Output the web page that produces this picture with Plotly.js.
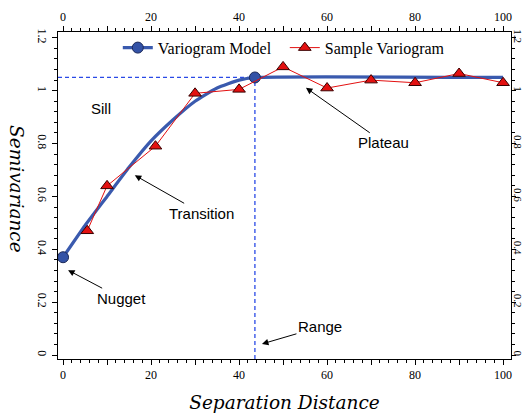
<!DOCTYPE html>
<html>
<head>
<meta charset="utf-8">
<script src="https://cdn.plot.ly/plotly-3.0.1.min.js"></script>
<style>html,body{margin:0;padding:0;background:#fff;}#chart{width:526px;height:414px;}</style>
</head>
<body>
<div id="chart"></div>
<script>
// ---- data ----
const xSample = [5.5, 10, 21, 30, 40, 50, 60, 70, 80, 90, 100];
const ySample = [0.47, 0.64, 0.79, 0.99, 1.005, 1.09, 1.01, 1.04, 1.03, 1.065, 1.03];
const xModel = [0, 5, 10, 15, 20, 25, 30, 35, 40, 43.6, 100];
const yModel = [0.37, 0.49, 0.60, 0.71, 0.81, 0.89, 0.96, 1.01, 1.04, 1.05, 1.05];
const sillValue = 1.05;
const rangeValue = 43.6;
const xTickVals = [0, 10, 20, 30, 40, 50, 60, 70, 80, 90, 100];
const xTickText = ['0', '', '20', '', '40', '', '60', '', '80', '', '100'];
const yTickVals = [0, 0.2, 0.4, 0.6, 0.8, 1, 1.2];
const yTickText = ['0', '0.2', '0.4', '0.6', '0.8', '1', '1.2'];
const seriesNames = ['Variogram Model', 'Sample Variogram'];
const labelSill = 'Sill', labelPlateau = 'Plateau', labelTransition = 'Transition', labelNugget = 'Nugget', labelRange = 'Range';
const xTitle = 'Separation Distance', yTitle = 'Semivariance';

// ---- styling ----
const blue = '#3a5aae';
const markerBlue = '#3352a6';
const red = '#e31010';
const dashBlue = '#2a4ae6';
const xRange = [-1.15, 101.8];
const yRange = [-0.015, 1.222];
const tickFont = {family: 'Liberation Serif, Times New Roman, serif', size: 12, color: '#000'};
const rightTickFont = {family: 'Liberation Serif, Times New Roman, serif', size: 11, color: '#000'};
const annFont = {family: 'Liberation Sans, Arial, sans-serif', size: 15, color: '#000'};
const titleFont = {family: 'DejaVu Serif, serif', size: 18.5, color: '#000', style: 'italic'};

const showMarker = xModel.map(x => x === xModel[0] || x === rangeValue);

const traces = [
  {
    x: xModel, y: yModel, name: seriesNames[0], type: 'scatter', mode: 'lines+markers',
    xaxis: 'x', yaxis: 'y',
    line: {color: blue, width: 3.2, shape: 'spline', smoothing: 0.5},
    marker: {
      symbol: 'circle', size: 11,
      color: showMarker.map(s => s ? markerBlue : 'rgba(0,0,0,0)'),
      line: {color: showMarker.map(s => s ? '#1b2858' : 'rgba(0,0,0,0)'), width: 1}
    }
  },
  {
    x: xSample, y: ySample, name: seriesNames[1], type: 'scatter', mode: 'lines+markers',
    xaxis: 'x2', yaxis: 'y2',
    line: {color: red, width: 1},
    marker: {symbol: 'triangle-up', size: 11, color: red, line: {color: '#3a0000', width: 1}}
  }
];

const axisCommon = {
  showline: true, linecolor: '#000', linewidth: 1, showgrid: false, zeroline: false,
  ticks: 'outside', ticklen: 5, tickcolor: '#000', tickwidth: 1, tickfont: tickFont
};
const xMinor = {tickmode: 'linear', tick0: 0, dtick: 2, ticklen: 3, tickcolor: '#000', ticks: 'outside'};
const yMinor = {tickmode: 'linear', tick0: 0, dtick: 0.04, ticklen: 3, tickcolor: '#000', ticks: 'outside'};

const layout = {
  width: 526, height: 414,
  margin: {l: 58, r: 15, t: 32, b: 55},
  paper_bgcolor: '#fff', plot_bgcolor: '#fff',
  showlegend: true,
  legend: {
    orientation: 'h', x: 0.132, xanchor: 'left', y: 0.952, yanchor: 'middle',
    bgcolor: 'rgba(0,0,0,0)', font: {family: 'Liberation Serif, Times New Roman, serif', size: 16, color: '#000'},
    itemwidth: 30, entrywidth: 122
  },
  xaxis: Object.assign({}, axisCommon, {
    range: xRange, tickmode: 'array', tickvals: xTickVals, ticktext: xTickText, minor: xMinor,
    title: {text: xTitle, font: titleFont, standoff: 14}
  }),
  xaxis2: Object.assign({}, axisCommon, {
    range: xRange, overlaying: 'x', side: 'top', anchor: 'y2',
    tickmode: 'array', tickvals: xTickVals, ticktext: xTickText, minor: xMinor
  }),
  yaxis: Object.assign({}, axisCommon, {
    range: yRange, tickmode: 'array', tickvals: yTickVals, ticktext: yTickText, tickangle: 90, minor: yMinor
  }),
  yaxis2: Object.assign({}, axisCommon, {
    range: yRange, overlaying: 'y', side: 'right', anchor: 'x2',
    tickmode: 'array', tickvals: yTickVals, ticktext: yTickText, tickangle: 90, minor: yMinor,
    tickfont: rightTickFont, ticklen: 4, ticklabelstandoff: -6
  }),
  shapes: [
    {type: 'line', xref: 'x', yref: 'y', x0: xRange[0], x1: rangeValue, y0: sillValue, y1: sillValue,
     line: {color: dashBlue, width: 1.3, dash: '4px,3px'}, layer: 'below'},
    {type: 'line', xref: 'x', yref: 'y', x0: rangeValue, x1: rangeValue, y0: yRange[0], y1: sillValue,
     line: {color: dashBlue, width: 1.3, dash: '4px,3px'}, layer: 'below'}
  ],
  annotations: [
    {x: 8.6, y: 0.932, xref: 'x', yref: 'y', text: labelSill, showarrow: false, font: annFont},
    {x: 55.2, y: 1.011, xref: 'x', yref: 'y', text: labelPlateau, showarrow: true, ax: 78, ay: 55,
     arrowhead: 2, arrowsize: 1.3, arrowwidth: 1, arrowcolor: '#000', font: annFont},
    {x: 16.3, y: 0.68, xref: 'x', yref: 'y', text: labelTransition, showarrow: true, ax: 67, ay: 38,
     arrowhead: 2, arrowsize: 1.3, arrowwidth: 1, arrowcolor: '#000', font: annFont},
    {x: 1.14, y: 0.321, xref: 'x', yref: 'y', text: labelNugget, showarrow: true, ax: 53, ay: 28,
     arrowhead: 2, arrowsize: 1.3, arrowwidth: 1, arrowcolor: '#000', font: annFont},
    {x: 45.2, y: 0.042, xref: 'x', yref: 'y', text: labelRange, showarrow: true, ax: 58, ay: -17,
     arrowhead: 2, arrowsize: 1.3, arrowwidth: 1, arrowcolor: '#000', font: annFont},
    {x: -0.093, y: 0.52, xref: 'paper', yref: 'paper', text: yTitle, textangle: 90, showarrow: false,
     font: titleFont, xanchor: 'center', yanchor: 'middle'}
  ]
};

Plotly.newPlot('chart', traces, layout, {displayModeBar: false, staticPlot: true});
</script>
</body>
</html>
